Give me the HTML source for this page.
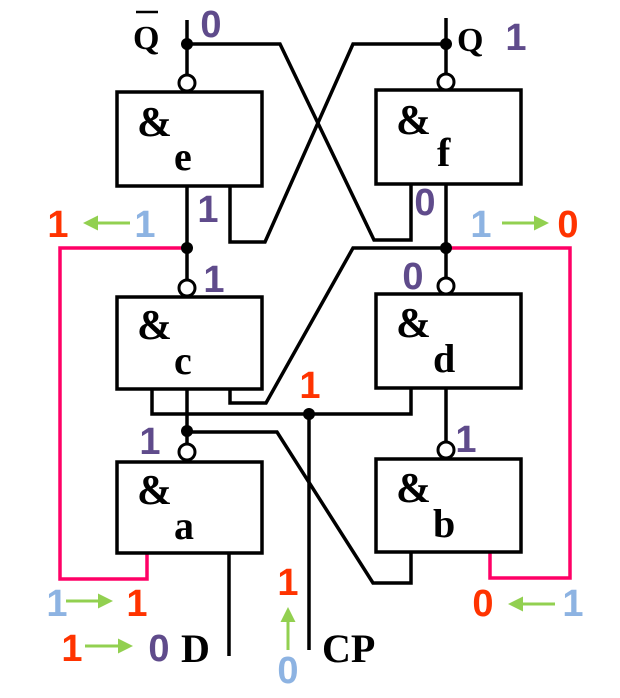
<!DOCTYPE html>
<html><head><meta charset="utf-8"><style>
html,body{margin:0;padding:0;background:#fff;}
svg{display:block}
.d{font-family:"Liberation Sans",sans-serif;font-weight:bold;font-size:38px;text-anchor:middle}
.s{font-family:"Liberation Serif",serif;font-weight:bold;fill:#000}
.p{fill:#5f4b8b}.o{fill:#ff3300}.b{fill:#8db3e2}
</style></head><body>
<svg width="620" height="698" viewBox="0 0 620 698" xmlns="http://www.w3.org/2000/svg">
<defs><marker id="ar" markerWidth="6" markerHeight="6" refX="4" refY="3" orient="auto" markerUnits="strokeWidth"><path d="M0,0.5 L5,3 L0,5.5 z" fill="#92d050"/></marker></defs>
<g fill="none" stroke="#ff0066" stroke-width="3.5">
<polyline points="187,248 60,248 60,579 147,579 147,553"/>
<polyline points="446,248 570,248 570,578 490,578 490,552"/>
</g>
<g fill="none" stroke="#000" stroke-width="3.5">
<rect x="117" y="92" width="145" height="94"/>
<rect x="376" y="90" width="145" height="94"/>
<rect x="117" y="297" width="145" height="92"/>
<rect x="376" y="294" width="145" height="94"/>
<rect x="117" y="462" width="145" height="91"/>
<rect x="376" y="459" width="145" height="93"/>
<line x1="187" y1="20" x2="187" y2="75"/>
<line x1="446" y1="18" x2="446" y2="75"/>
<polyline points="187,44 280,44 374,240 411,240 411,185"/>
<polyline points="446,44 353,44 265,242 230,242 230,186"/>
<line x1="187" y1="186" x2="187" y2="280"/>
<line x1="446" y1="184" x2="446" y2="278"/>
<polyline points="446,248 353,248 266,403 230,403 230,389"/>
<polyline points="152,389 152,414 411,414 411,388"/>
<line x1="309" y1="414" x2="309" y2="650"/>
<line x1="187" y1="389" x2="187" y2="444"/>
<polyline points="187,432 277,432 373,583 411,583 411,552"/>
<line x1="446" y1="388" x2="446" y2="442"/>
<line x1="229" y1="553" x2="229" y2="656"/>
</g>
<g fill="#fff" stroke="#000" stroke-width="3">
<circle cx="187" cy="83" r="8"/><circle cx="446" cy="82" r="8"/>
<circle cx="187" cy="288" r="8"/><circle cx="446" cy="286" r="8"/>
<circle cx="187" cy="452" r="8"/><circle cx="446" cy="450" r="8"/>
</g>
<g fill="#000">
<circle cx="187" cy="44" r="6"/><circle cx="446" cy="44" r="6"/>
<circle cx="187" cy="248" r="6"/><circle cx="446" cy="248" r="6"/>
<circle cx="309" cy="414" r="6"/><circle cx="187" cy="431" r="6"/>
</g>
<g class="s" font-size="42">
<text x="137" y="136">&amp;</text><text x="174" y="170" font-size="40">e</text>
<text x="396" y="134">&amp;</text><text x="437" y="166" font-size="40">f</text>
<text x="137" y="339">&amp;</text><text x="174" y="374" font-size="40">c</text>
<text x="396" y="337">&amp;</text><text x="433" y="372" font-size="40">d</text>
<text x="137" y="504">&amp;</text><text x="174" y="539" font-size="40">a</text>
<text x="396" y="502">&amp;</text><text x="433" y="537" font-size="40">b</text>
<text x="133" y="49" font-size="34">Q</text>
<line x1="136" y1="12" x2="158" y2="12" stroke="#000" stroke-width="2.5"/>
<text x="457" y="51" font-size="34">Q</text>
<text x="181" y="662" font-size="40">D</text>
<text x="322" y="662" font-size="40">CP</text>
</g>
<g class="d">
<text class="p" x="211" y="37">0</text>
<text class="p" x="516" y="50">1</text>
<text class="o" x="58" y="237">1</text>
<text class="b" x="145" y="237">1</text>
<text class="p" x="208" y="222">1</text>
<text class="p" x="425" y="215">0</text>
<text class="b" x="481" y="237">1</text>
<text class="o" x="568" y="237">0</text>
<text class="p" x="214" y="292">1</text>
<text class="p" x="413" y="289">0</text>
<text class="o" x="310" y="398">1</text>
<text class="p" x="150" y="454">1</text>
<text class="p" x="466" y="452">1</text>
<text class="b" x="57" y="616">1</text>
<text class="o" x="137" y="616">1</text>
<text class="o" x="483" y="616">0</text>
<text class="b" x="573" y="616">1</text>
<text class="o" x="72" y="661">1</text>
<text class="p" x="159" y="661">0</text>
<text class="o" x="288" y="595">1</text>
<text class="b" x="288" y="683">0</text>
</g>
<g stroke="#92d050" stroke-width="3" marker-end="url(#ar)">
<line x1="130" y1="223" x2="86" y2="223"/>
<line x1="502" y1="223" x2="546" y2="223"/>
<line x1="66" y1="601" x2="110" y2="601"/>
<line x1="555" y1="604" x2="511" y2="604"/>
<line x1="85" y1="646" x2="130" y2="646"/>
<line x1="288" y1="650" x2="288" y2="610"/>
</g>
</svg>
</body></html>
